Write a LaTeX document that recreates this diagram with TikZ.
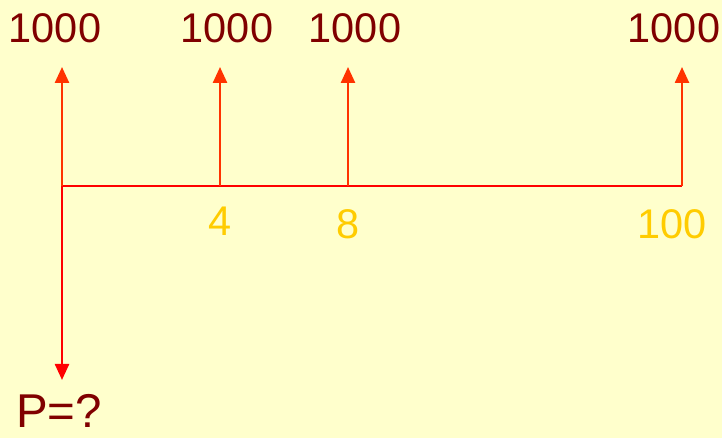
\documentclass[tikz,border=0pt]{standalone}
\usepackage{fontspec}
\setmainfont{Liberation Sans}
\usepackage{xcolor}
\usetikzlibrary{arrows.meta}
\definecolor{slidebg}{RGB}{255,255,204}
\definecolor{cashtext}{RGB}{128,0,0}
\definecolor{cashup}{RGB}{255,51,0}
\definecolor{axisred}{RGB}{255,0,0}
\definecolor{periodtext}{RGB}{255,204,0}

\begin{document}
\begin{tikzpicture}[
  flow/.style={draw=cashup, line width=1.4pt, -{Triangle[width=0.28cm, length=0.32cm]}},
  outflow/.style={draw=axisred, line width=1.4pt, -{Triangle[width=0.28cm, length=0.32cm]}},
  amount/.style={font=\fontsize{23.6}{27}\selectfont, text=cashtext},
  period/.style={font=\fontsize{23.6}{27}\selectfont, text=periodtext}
]
\fill[slidebg] (0, 0) rectangle (14.44, 8.76);
\useasboundingbox (0, 0) rectangle (14.44, 8.76);
% time axis
\coordinate (t0) at (1.24, 5.04);
\coordinate (tend) at (13.64, 5.04);
\draw[axisred, line width=1.4pt] (t0) -- (tend);
% receipts of 1000 at 0, 4, 8 and 100
\foreach \n/\x/\lx in {a/1.24/1.10, b/4.40/4.54, c/6.96/7.10, d/13.64/13.48} {
  \coordinate (base\n) at (\x, 5.04);
  \coordinate (tip\n) at (\x, 7.42);
  \draw[flow] (base\n) -- (tip\n);
  \node[amount] (amt\n) at (\lx, 8.20) {1000};
}
% period labels
\node[period] (p4) at (4.40, 4.34) {4};
\node[period] (p8) at (6.96, 4.28) {8};
\node[period] (p100) at (13.44, 4.28) {100};
% present value, paid out
\coordinate (down) at (1.24, 1.16);
\draw[outflow] (t0) -- (down);
\node[amount, inner sep=0pt, font=\fontsize{27}{31}\selectfont] (pv) at (1.18, 0.55) {P=?};
\end{tikzpicture}
\end{document}
